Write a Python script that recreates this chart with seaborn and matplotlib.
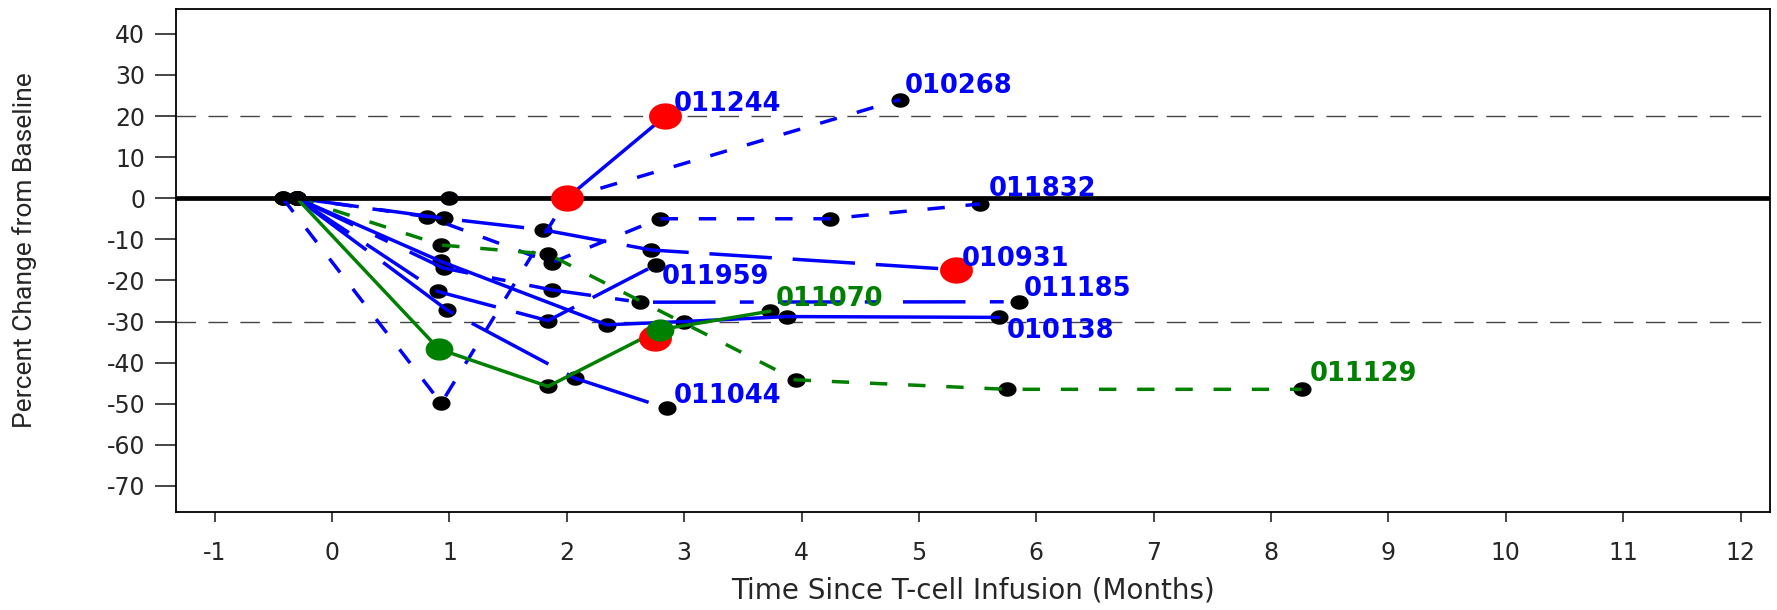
import matplotlib
matplotlib.use("Agg")
import matplotlib.pyplot as plt
import seaborn as sns
import numpy as np
import pandas as pd

# months since T-cell infusion / percent change from baseline, one pair per patient
p011244_t = [-0.42, 1.00, 2.00, 2.84]
p011244_y = [0, 0, 0, 20]
p010268_t = [-0.42, 0.93, 2.00, 4.84]
p010268_y = [0, -49.9, 0, 24]
p011832_t = [-0.30, 0.81, 1.87, 2.79, 4.24, 5.52]
p011832_y = [0, -4.5, -15.7, -5.0, -5.0, -1.4]
p010931_t = [-0.30, 0.95, 1.80, 2.72, 5.32]
p010931_y = [0, -4.9, -7.7, -12.6, -17.4]
p011129_t = [-0.30, 0.93, 1.84, 3.95, 5.75, 8.26]
p011129_y = [0, -11.4, -13.6, -44.2, -46.5, -46.5]
p010138_t = [-0.30, 0.93, 2.34, 3.00, 3.88, 5.68]
p010138_y = [0, -15.4, -30.8, -30.0, -28.8, -29.0]
p011185_t = [-0.30, 0.95, 1.87, 2.62, 5.85]
p011185_y = [0, -17.0, -22.3, -25.3, -25.2]
p011959_t = [-0.30, 0.90, 1.84, 2.76]
p011959_y = [0, -22.7, -29.8, -16.2]
p011044_t = [-0.30, 0.98, 2.07, 2.85]
p011044_y = [0, -27.2, -43.8, -51.1]
p011070_t = [-0.30, 0.91, 1.84, 2.79, 3.73]
p011070_y = [0, -36.7, -45.8, -32.0, -27.5]

# highlighted assessments
red_t = [2.00, 2.84, 5.32, 2.75]
red_y = [0, 20, -17.4, -34.1]
green_t = [0.91, 2.79]
green_y = [-36.7, -32.0]

x_ticks = list(range(-1, 13))
y_ticks = list(range(-70, 41, 10))

series = {
    "011244": (p011244_t, p011244_y),
    "010268": (p010268_t, p010268_y),
    "011832": (p011832_t, p011832_y),
    "010931": (p010931_t, p010931_y),
    "011129": (p011129_t, p011129_y),
    "010138": (p010138_t, p010138_y),
    "011185": (p011185_t, p011185_y),
    "011959": (p011959_t, p011959_y),
    "011044": (p011044_t, p011044_y),
    "011070": (p011070_t, p011070_y),
}
rows = []
for pid, (ts, ys) in series.items():
    for t, y in zip(ts, ys):
        rows.append({"pid": pid, "t": t, "pct": y})
df = pd.DataFrame(rows)

palette = {pid: "blue" for pid in series}
palette["011129"] = "green"
palette["011070"] = "green"

med = (5, 6)
longd = (18, 6)
dashes = {
    "011244": "", "010138": "", "011070": "",
    "010268": med, "011832": med, "011129": med,
    "010931": longd, "011959": longd, "011044": (25, 6),
    "011185": (18, 7, 4, 7),
}

# label offsets from each series' last point (points)
label_off = {
    "011244": (6, 9), "010268": (3, 10), "011832": (6, 11), "010931": (4, 8),
    "011959": (4, -9), "011070": (4, 9), "011185": (4, 9), "010138": (6, -10),
    "011129": (6, 11), "011044": (5, 9),
}

sns.set_theme(style="ticks")
plt.rcParams["font.family"] = ["DejaVu Sans"]
plt.rcParams["axes.unicode_minus"] = False

fig, ax = plt.subplots(figsize=(17.77, 6.1), dpi=100)
fig.subplots_adjust(left=0.099, right=0.996, top=0.985, bottom=0.161)

theta = np.linspace(0, 2 * np.pi, 60)
ell = matplotlib.markers.MarkerStyle(np.column_stack([np.cos(theta), 0.8 * np.sin(theta)]))

for ref in (20, -30):
    ax.axhline(ref, color="#444444", lw=1.0, ls=(0, (14, 9)), zorder=1)

sns.scatterplot(data=df, x="t", y="pct", color="black", s=170, marker=ell,
                linewidth=0, ax=ax, zorder=2, legend=False)
sns.lineplot(data=df, x="t", y="pct", hue="pid", style="pid", palette=palette,
             dashes=dashes, sort=False, estimator=None, lw=2.5, legend=False,
             ax=ax, zorder=4)
ax.axhline(0, color="black", lw=3.4, zorder=4.5)
ax.scatter(red_t, red_y, s=560, marker=ell, color="red", lw=0, zorder=5)
ax.scatter(green_t, green_y, s=400, marker=ell, color="green", lw=0, zorder=5.5)

for pid, (ts, ys) in series.items():
    ax.annotate(pid, (ts[-1], ys[-1]), xytext=label_off[pid], textcoords="offset points",
                ha="left", va="center", color=palette[pid], fontsize=18.5,
                fontweight="bold", zorder=6)

ax.set_xlim(-1.33, 12.25)
ax.set_ylim(-76.3, 46)
ax.set_xticks(x_ticks)
ax.set_yticks(y_ticks)
ax.tick_params(axis="y", length=15, width=1.2, labelsize=17, pad=7)
ax.tick_params(axis="x", length=7, width=1.2, labelsize=17, pad=14)
for s in ax.spines.values():
    s.set_linewidth(1.3)
    s.set_color("black")

ax.set_xlabel("Time Since T-cell Infusion (Months)", fontsize=20)
ax.xaxis.set_label_coords(0.5, -0.128)
ax.set_ylabel("Percent Change from Baseline", fontsize=19, family=["Roboto", "DejaVu Sans"])
ax.yaxis.set_label_coords(-0.087, 0.52)

fig.savefig("out.png", dpi=100)
